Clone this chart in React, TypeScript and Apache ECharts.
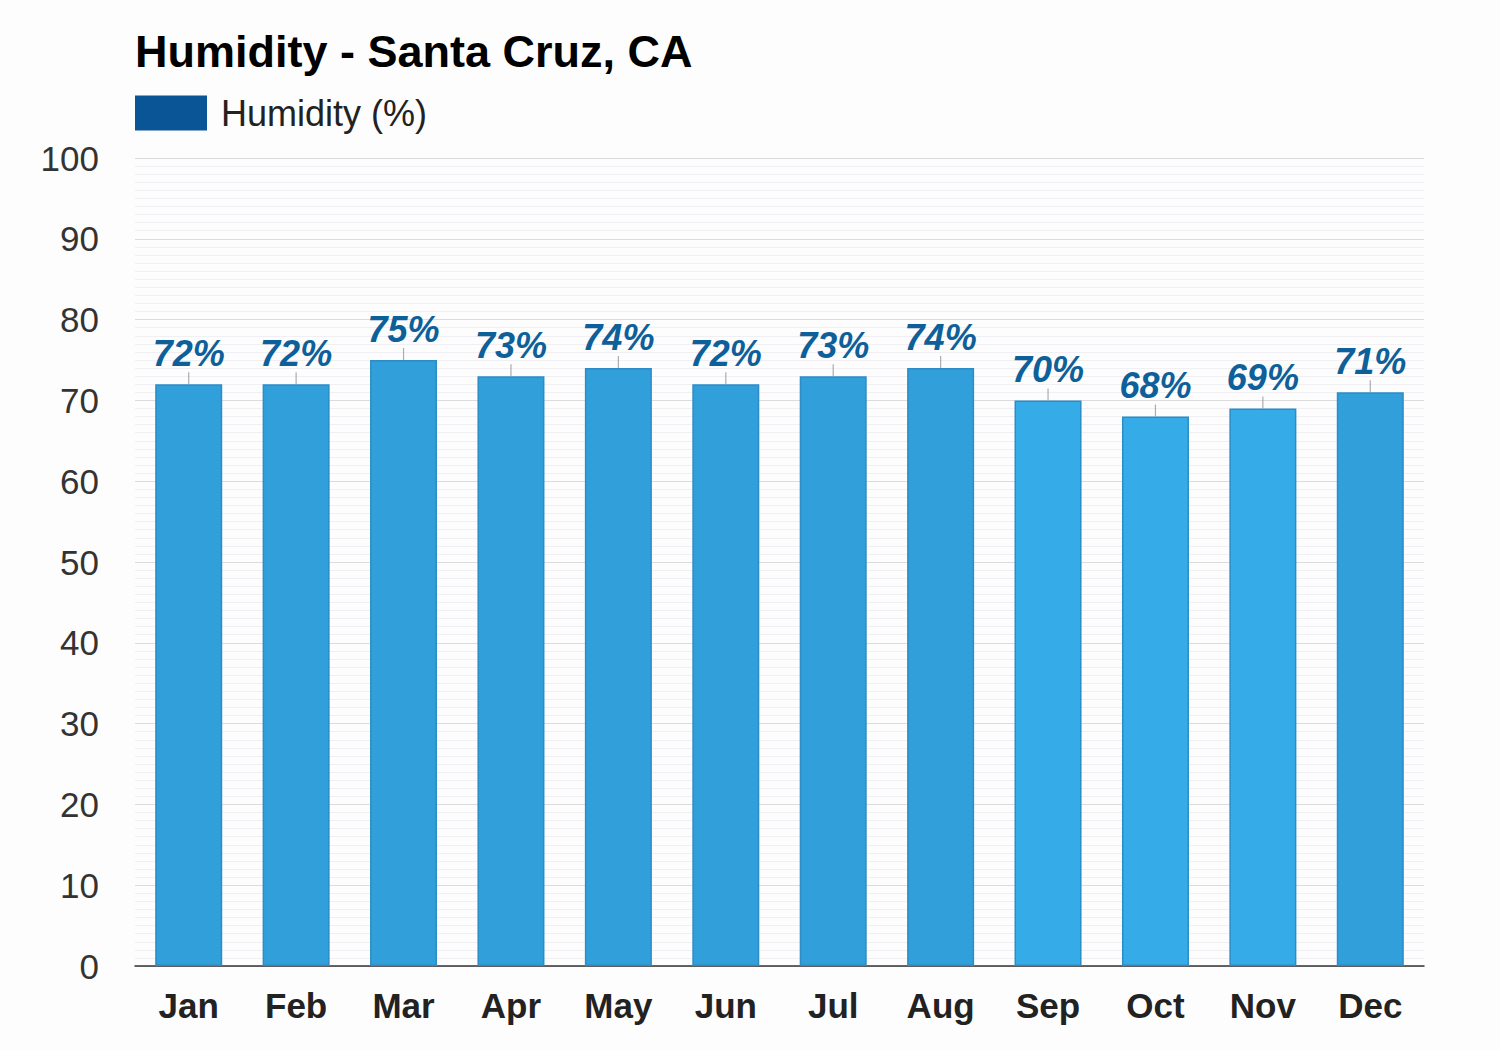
import React, { useEffect, useRef } from "react";
import * as echarts from "echarts";

const months = ["Jan", "Feb", "Mar", "Apr", "May", "Jun", "Jul", "Aug", "Sep", "Oct", "Nov", "Dec"];
const humidity = [72, 72, 75, 73, 74, 72, 73, 74, 70, 68, 69, 71];
const barColors = ["#319fd9", "#319fd9", "#319fd9", "#319fd9", "#319fd9", "#319fd9", "#319fd9", "#319fd9", "#35ace8", "#35ace8", "#35ace8", "#319fd9"];
const yTicks = [0, 10, 20, 30, 40, 50, 60, 70, 80, 90, 100];

const FONT = "'Liberation Sans', Arial, sans-serif";

export default function App() {
  const ref = useRef<HTMLDivElement>(null);
  useEffect(() => {
    const chart = echarts.init(ref.current!, null, { renderer: "svg" });
    chart.setOption({
      animation: false,
      backgroundColor: "#fdfdfd",
      title: {
        text: "Humidity - Santa Cruz, CA",
        left: 130,
        top: 24,
        textStyle: { fontFamily: FONT, fontSize: 45, fontWeight: "bold", color: "#000" },
      },
      legend: {
        left: 130,
        top: 90,
        itemWidth: 72,
        itemHeight: 35,
        itemGap: 20,
        icon: "rect",
        data: ["Humidity (%)"],
        textStyle: { fontFamily: FONT, fontSize: 36, color: "#222", padding: [0, 0, 0, 9] },
      },
      grid: { left: 135, right: 76, top: 158, bottom: 84, containLabel: false },
      xAxis: {
        type: "category",
        data: months,
        axisLine: { lineStyle: { color: "#333", width: 1.5 } },
        axisTick: { show: false },
        axisLabel: { fontFamily: FONT, fontSize: 35, fontWeight: "bold", color: "#222", margin: 22 },
      },
      yAxis: {
        type: "value",
        min: yTicks[0],
        max: yTicks[yTicks.length - 1],
        interval: 10,
        axisLine: { show: false },
        axisTick: { show: false },
        axisLabel: { fontFamily: FONT, fontSize: 35, color: "#333", margin: 36 },
        splitLine: { lineStyle: { color: "#dcdcdc", width: 1 } },
        minorTick: { show: false, splitNumber: 10 },
        minorSplitLine: { show: true, lineStyle: { color: "#f0eff4", width: 1 } },
      },
      series: [
        {
          name: "Humidity (%)",
          type: "bar",
          barWidth: 67,
          itemStyle: { color: "#0a5596" },
          data: humidity.map((v, i) => ({
            value: v,
            itemStyle: { color: barColors[i], borderColor: "#2b8cc6", borderWidth: 1.5 },
          })),
          label: {
            show: true,
            position: "top",
            distance: 13,
            formatter: "{c}%",
            fontFamily: FONT,
            fontSize: 36,
            fontWeight: "bold",
            fontStyle: "italic",
            color: "#0d6099",
          },
          z: 2,
        },
        {
          name: "leader",
          type: "scatter",
          data: humidity,
          symbol: "rect",
          symbolSize: [1.2, 12],
          symbolOffset: [0, -6],
          itemStyle: { color: "#999" },
          silent: true,
          z: 3,
        },
      ],
    });
    return () => chart.dispose();
  }, []);
  return (
    <div
      ref={ref}
      style={{ position: "fixed", left: 0, top: 0, width: 1500, height: 1050 }}
    />
  );
}
